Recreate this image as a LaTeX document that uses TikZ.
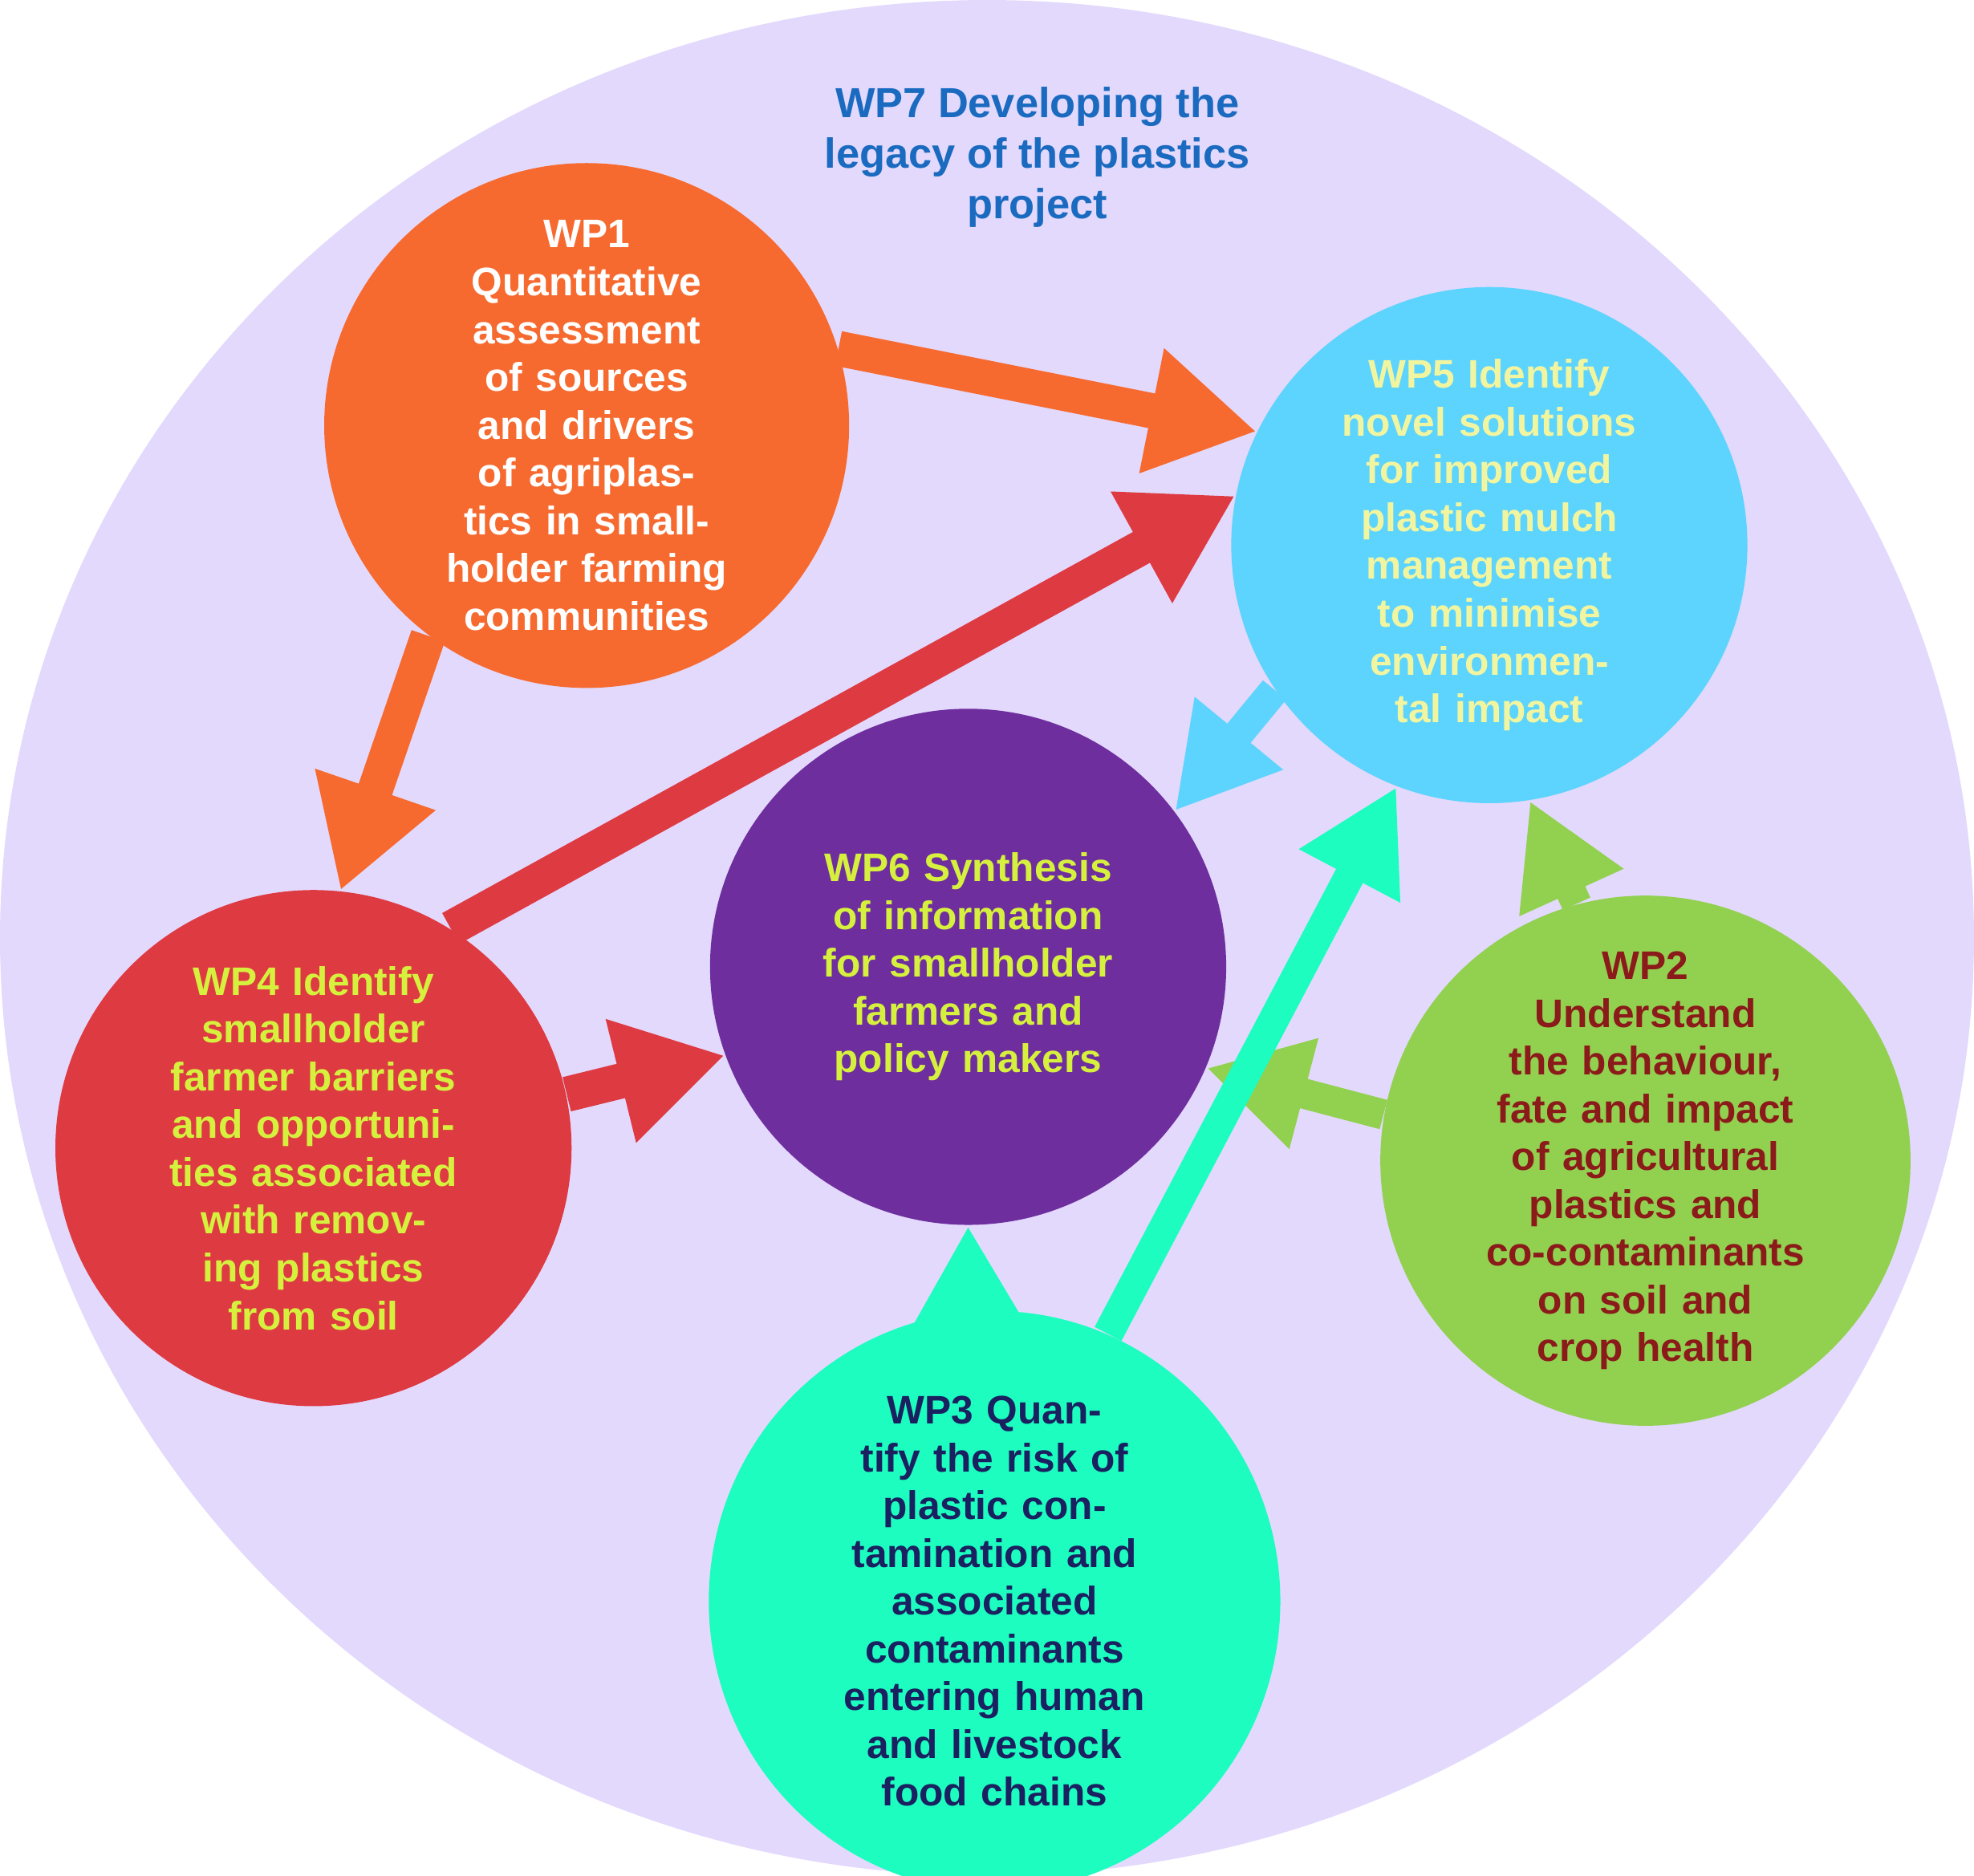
\documentclass[tikz,border=0pt]{standalone}
\usepackage{fontspec}
\setmainfont{Liberation Sans}
\usepackage{xcolor}
\usepackage{tikz}
\usetikzlibrary{arrows.meta,shapes.geometric}

\definecolor{lavender}{HTML}{E3D9FC}
\definecolor{wpone}{HTML}{F66A30}
\definecolor{wptwo}{HTML}{92D050}
\definecolor{wpthree}{HTML}{1CFDBF}
\definecolor{wpfour}{HTML}{DE3A42}
\definecolor{wpfive}{HTML}{5DD4FD}
\definecolor{wpsix}{HTML}{6E2E9E}
\definecolor{titleblue}{HTML}{1A6BC0}
\definecolor{limetext}{HTML}{D6F03E}
\definecolor{paletext}{HTML}{F2F5A0}
\definecolor{darkred}{HTML}{8B1A1A}
\definecolor{navytext}{HTML}{1A2060}

\begin{document}
\begin{tikzpicture}[
    x=0.1mm, y=-0.1mm,
    package/.style={circle, minimum size=4.1cm, inner sep=0pt, align=center, text width=2.6cm,
        font=\fontsize{9}{10.8}\selectfont\bfseries},
    fat/.style={line width=0.28cm, -{Triangle[length=0.85cm,width=0.95cm]}},
    slim/.style={line width=0.24cm, -{Triangle[length=0.8cm,width=0.85cm]}}
]
\useasboundingbox (0,0) rectangle (1568,1490);

% Programme
\fill[lavender] (784,745) ellipse (7.84cm and 7.45cm);
\node[align=center, text=titleblue, font=\fontsize{9.5}{11.4}\selectfont\bfseries] (wp7) at (824,125)
    {WP7 Developing the\\legacy of the plastics\\project};

% Work packages
\node[package, fill=wpone, text=white] (wp1) at (466,338)
    {WP1\\Quantitative assessment of sources and drivers of agriplastics in smallholder farming communities};
\node[package, fill=wpfive, text=paletext] (wp5) at (1183,433)
    {WP5 Identify novel solutions for improved plastic mulch management to minimise environmental impact};
\node[package, fill=wpsix, text=limetext] (wp6) at (769,768)
    {WP6 Synthesis of information for smallholder farmers and policy makers};
\node[package, fill=wpfour, text=limetext] (wp4) at (249,912)
    {WP4 Identify smallholder farmer barriers and opportunities associated with removing plastics from soil};
\node[package, fill=wptwo, text=darkred] (wp2) at (1307,922)
    {WP2\\Understand the behaviour, fate and impact of agricultural plastics and co-contaminants on soil and crop health};
\node[package, ellipse, minimum width=4.54cm, minimum height=4.38cm, fill=wpthree, text=navytext] (wp3) at (790,1272)
    {WP3 Quantify the risk of plastic contamination and associated contaminants entering human and livestock food chains};

% Links
\draw[fat, wpone] (wp1.17) -- (wp5.154);
\draw[fat, wpone] (wp1.233) -- (wp4.84);
\draw[fat, wpfour] (wp4.58) -- (wp5.169);
\draw[fat, wpfour] (wp4.12) -- (wp6.200);
\draw[slim, wpfive] (wp5.214) -- (wp6.37);
\draw[slim, wptwo] (wp2.105) -- (wp5.279);
\draw[slim, wptwo] (wp2.170) -- (wp6.337);
\draw[slim, wpthree] (wp3.95) -- (wp6.270);
\draw[slim, wpthree] (wp3.67) -- (wp5.249);

\end{tikzpicture}
\end{document}
